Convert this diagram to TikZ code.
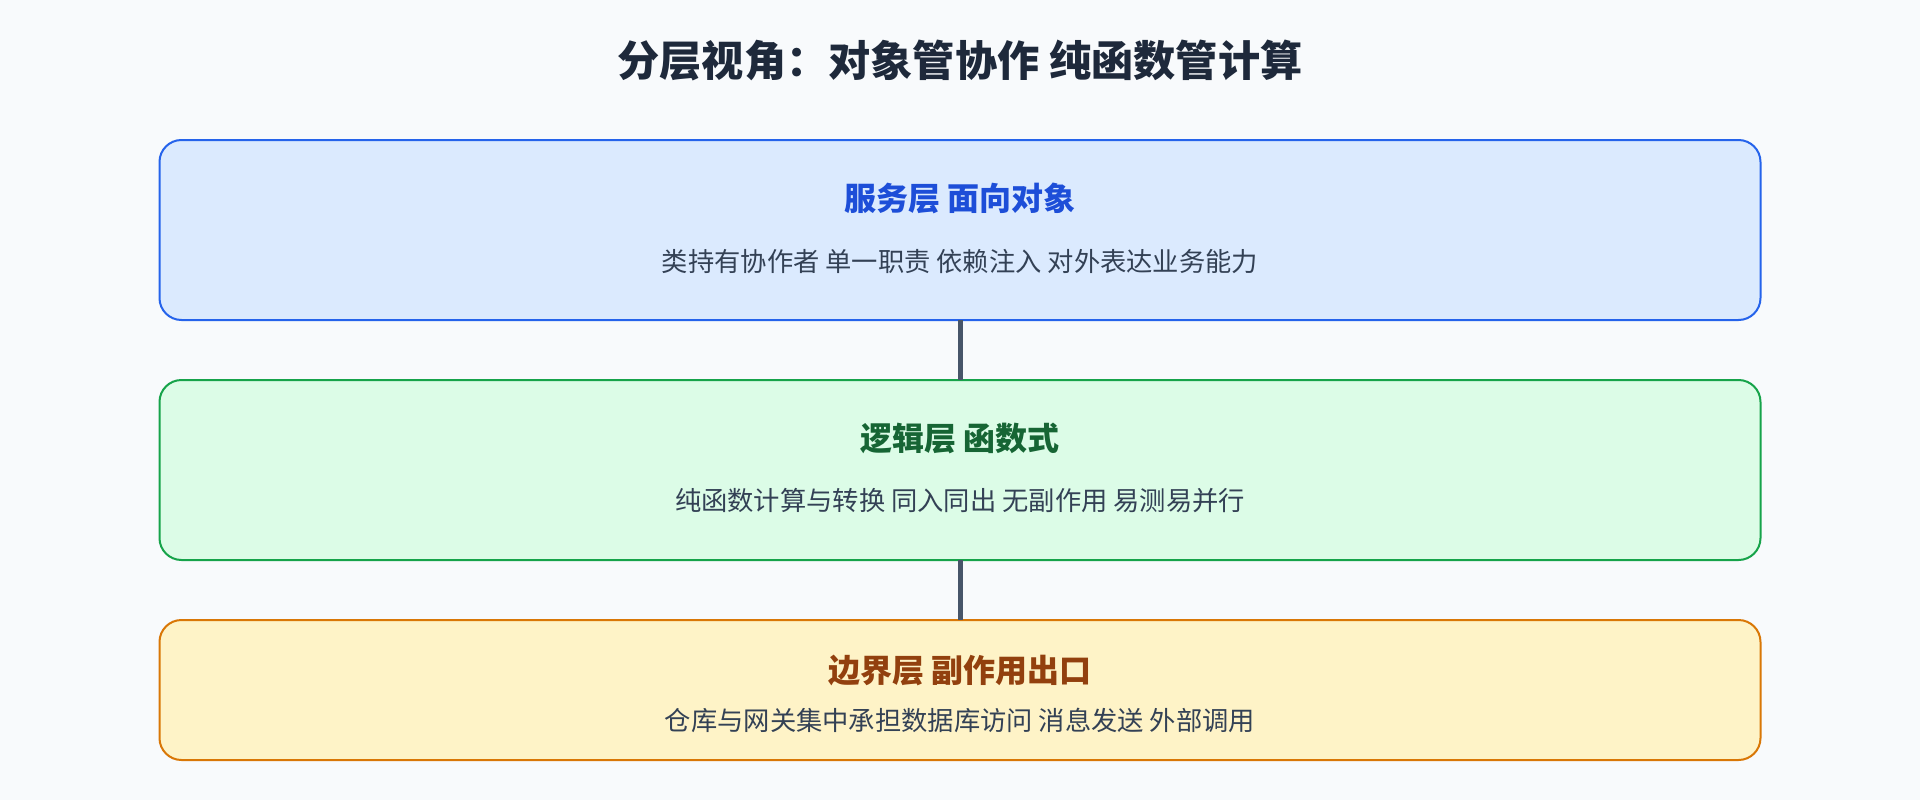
\documentclass[tikz,border=0pt]{standalone}
\usepackage{fontspec}
\setmainfont{Noto Sans CJK SC}
\usetikzlibrary{positioning}
\definecolor{pagebg}{HTML}{F8FAFC}
\definecolor{titleink}{HTML}{1E293B}
\definecolor{bodyink}{HTML}{334155}
\definecolor{linkink}{HTML}{475569}
\definecolor{bluefill}{HTML}{DBEAFE}
\definecolor{blueline}{HTML}{2563EB}
\definecolor{blueink}{HTML}{1D4ED8}
\definecolor{greenfill}{HTML}{DCFCE7}
\definecolor{greenline}{HTML}{16A34A}
\definecolor{greenink}{HTML}{166534}
\definecolor{amberfill}{HTML}{FEF3C7}
\definecolor{amberline}{HTML}{D97706}
\definecolor{amberink}{HTML}{92400E}
\tikzset{
  layer/.style={rectangle, rounded corners=22pt, line width=2pt, outer sep=0pt,
    minimum width=1601pt, minimum height=180pt},
  headtxt/.style={font=\fontsize{32pt}{38pt}\selectfont\bfseries},
  bodytxt/.style={font=\fontsize{26.3pt}{31pt}\selectfont, text=bodyink},
  link/.style={line width=5pt, draw=linkink}
}

\begin{document}
\begin{tikzpicture}[x=1pt,y=1pt,node distance=60pt]
  \fill[pagebg] (0,0) rectangle (1920,-800);
  \node[font=\fontsize{42.2pt}{50pt}\selectfont\bfseries, text=titleink] (title) at (960,-61) {分层视角：对象管协作 纯函数管计算};

  \node[layer, fill=bluefill, draw=blueline] (service) at (960,-230) {};
  \node[layer, fill=greenfill, draw=greenline, below=of service] (logic) {};
  \node[layer, fill=amberfill, draw=amberline, minimum height=140pt, below=of logic] (boundary) {};

  \draw[link] (service) -- (logic);
  \draw[link] (logic) -- (boundary);

  \node[headtxt, text=blueink] (serviceHead) at ([yshift=-58pt]service.north) {服务层 面向对象};
  \node[bodytxt] (serviceBody) at ([yshift=-122pt]service.north) {类持有协作者 单一职责 依赖注入 对外表达业务能力};
  \node[headtxt, text=greenink] (logicHead) at ([yshift=-58pt]logic.north) {逻辑层 函数式};
  \node[bodytxt] (logicBody) at ([yshift=-121pt]logic.north) {纯函数计算与转换 同入同出 无副作用 易测易并行};
  \node[headtxt, text=amberink] (boundaryHead) at ([yshift=-50pt]boundary.north) {边界层 副作用出口};
  \node[bodytxt] (boundaryBody) at ([yshift=-100pt]boundary.north) {仓库与网关集中承担数据库访问 消息发送 外部调用};
\end{tikzpicture}
\end{document}
